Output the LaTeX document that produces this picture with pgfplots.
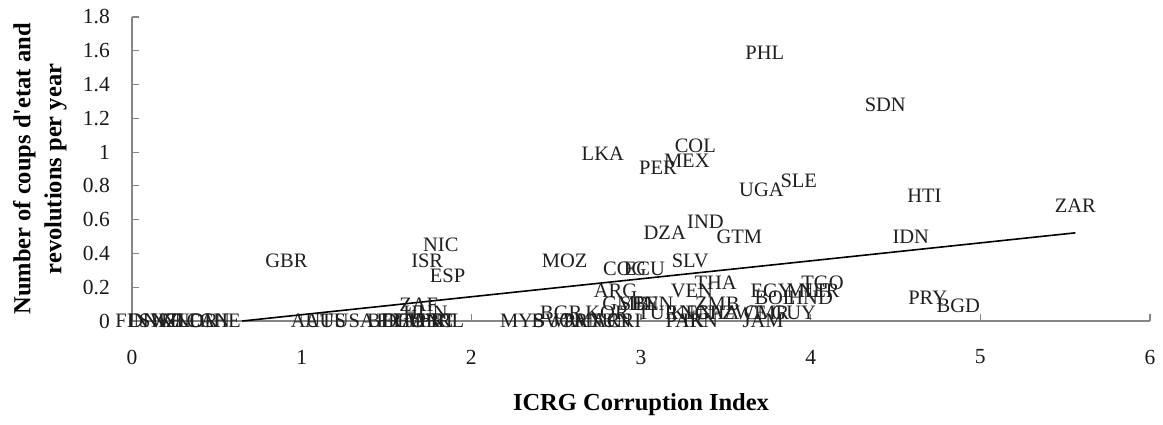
\documentclass[border=0pt]{standalone}
\usepackage{fontspec}
\setmainfont{Liberation Serif}
\usepackage{pgfplots}
\usepackage{pgfplotstable}
\pgfplotsset{compat=1.18}
\definecolor{axgray}{RGB}{134,134,134}
\pgfplotstableread{
x y label
0.00 0 FIN
0.11 0 DNK
0.17 0 SWE
0.23 0 NZL
0.30 0 NLD
0.38 0 NOR
0.45 0 CAN
0.52 0 CHE
0.91 0.355 GBR
1.06 0 AUT
1.14 0 AUS
1.31 0 USA
1.50 0 BEL
1.56 0 FRA
1.60 0 DEU
1.64 0 ITA
1.72 0 JPN
1.77 0 GRC
1.80 0 PRT
1.86 0 IRL
1.69 0.095 ZAF
1.73 0.047 HUN
1.82 0.45 NIC
1.74 0.355 ISR
1.86 0.27 ESP
2.30 0 MYS
2.49 0 BWA
2.58 0 JOR
2.66 0 PAN
2.74 0 MAR
2.82 0 TUN
2.90 0 CRI
2.53 0.05 BGR
2.80 0.05 KOR
2.55 0.355 MOZ
2.85 0.18 ARG
2.905 0.31 COG
3.02 0.31 ECU
2.91 0.10 GMB
2.99 0.10 SEN
3.07 0.10 BEN
3.10 0.05 TUR
3.30 0.05 KEN
3.36 0.05 NGA
3.45 0.05 GHA
3.26 0 PAK
3.35 0 IRN
3.29 0.355 SLV
3.30 0.18 VEN
3.44 0.225 THA
3.45 0.10 ZMB
3.61 0.05 ZWE
3.74 0.05 CMR
3.72 0 JAM
3.90 0.05 GUY
3.77 0.18 EGY
3.97 0.18 MLI
4.05 0.18 NER
4.07 0.225 TGO
3.79 0.135 BOL
4.00 0.135 HND
4.69 0.14 PRY
4.87 0.09 BGD
3.14 0.52 DZA
3.58 0.50 GTM
3.38 0.59 IND
4.59 0.50 IDN
3.71 0.775 UGA
3.93 0.83 SLE
4.67 0.74 HTI
5.56 0.68 ZAR
3.10 0.91 PER
3.27 0.95 MEX
3.32 1.04 COL
2.775 0.99 LKA
4.44 1.28 SDN
3.73 1.59 PHL
}\countries
\begin{document}
\begin{tikzpicture}
\begin{axis}[
  at={(0pt,0pt)}, anchor=south west,
  scale only axis, width=1018pt, height=304pt,
  xmin=0, xmax=6, ymin=0, ymax=1.8,
  axis x line*=bottom, axis y line*=left,
  axis line style={draw=axgray, line width=1.3pt, -},
  x axis line style={-}, y axis line style={-},
  xtick={0,1,2,3,4,5,6},
  ytick={0,0.2,0.4,0.6,0.8,1,1.2,1.4,1.6,1.8},
  tick align=inside, major tick length=7pt,
  tick style={draw=axgray, line width=1.1pt},
  /pgf/number format/assume math mode=true,
  ticklabel style={font=\fontsize{21.5}{24}\selectfont, text=black!90},
  xticklabel style={anchor=center, yshift=-36pt},
  yticklabel style={anchor=east, inner sep=0pt, xshift=-22pt},
  xlabel={ICRG Corruption Index},
  xlabel style={at={(axis description cs:0.5,-0.276)}, anchor=center, font=\fontsize{24.5}{30}\selectfont\bfseries},
  ylabel={Number of coups d\textquotesingle etat and\\revolutions per year},
  ylabel style={at={(axis description cs:-0.0904,0.5)}, anchor=center, align=center, font=\fontsize{24.5}{31}\selectfont\bfseries},
  clip=false,
]
\addplot[only marks, mark=none, point meta=explicit symbolic,
  nodes near coords, nodes near coords align=center,
  every node near coord/.append style={font=\fontsize{20.5}{22}\selectfont, text=black!88, inner sep=0pt, anchor=center}]
  table[x=x, y=y, meta=label] {\countries};
\addplot[black, line width=1.6pt, mark=none] coordinates {(0.65,0) (5.56,0.522)};
\end{axis}
\pgfresetboundingbox
\path[use as bounding box] (-132pt,-103pt) rectangle (1031pt,321pt);
\end{tikzpicture}
\end{document}
